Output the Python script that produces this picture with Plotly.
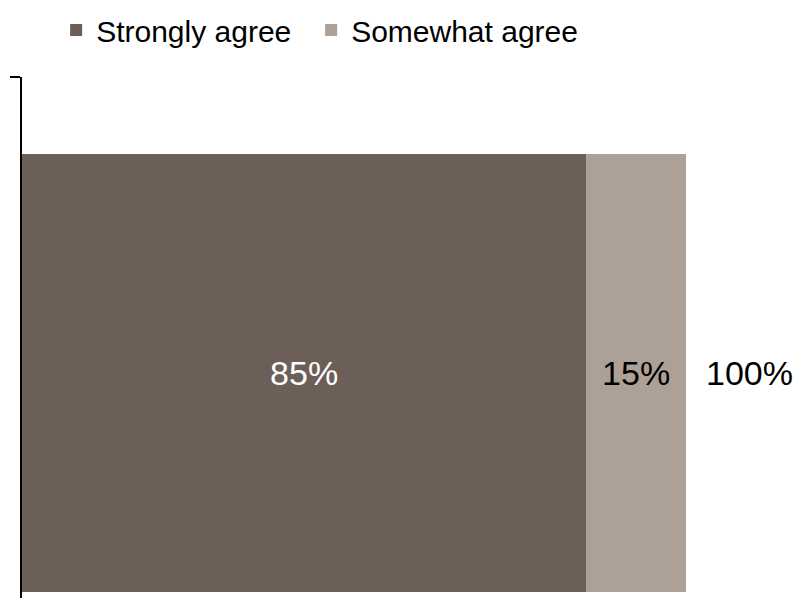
import plotly.graph_objects as go

categories = [0]
series_names = ["Strongly agree", "Somewhat agree"]
strongly_agree = [85]
somewhat_agree = [15]
total_label = "100%"

COLORS = {"Strongly agree": "#6B5F57", "Somewhat agree": "#ADA097"}
TEXT_COLORS = {"Strongly agree": "white", "Somewhat agree": "black"}
LEGEND_WIDTHS = {"Strongly agree": 210, "Somewhat agree": 240}
FONT = "Liberation Sans, Arial, sans-serif"

fig = go.Figure()
for name, values in zip(series_names, [strongly_agree, somewhat_agree]):
    fig.add_trace(
        go.Bar(
            x=values,
            y=categories,
            name=name,
            orientation="h",
            width=0.74,
            marker={"color": COLORS[name], "line": {"width": 0}},
            text=[f"{v}%" for v in values],
            textposition="inside",
            insidetextanchor="middle",
            textfont={"color": TEXT_COLORS[name], "size": 34, "family": FONT},
            legendwidth=LEGEND_WIDTHS[name],
        )
    )

total = strongly_agree[0] + somewhat_agree[0]
fig.add_annotation(
    x=total,
    y=categories[0],
    text=total_label,
    showarrow=False,
    xanchor="left",
    xshift=18,
    font={"color": "black", "size": 34, "family": FONT},
)

fig.update_layout(
    barmode="stack",
    width=808,
    height=598,
    paper_bgcolor="white",
    plot_bgcolor="white",
    margin={"l": 14, "r": 0, "t": 69, "b": 0, "autoexpand": False},
    font={"family": FONT, "color": "black"},
    legend={
        "orientation": "h",
        "traceorder": "normal",
        "x": 0.043,
        "xanchor": "left",
        "y": 1.089,
        "yanchor": "middle",
        "font": {"size": 30},
        "itemclick": False,
    },
    xaxis={
        "range": [0, 119.6],
        "visible": False,
        "showgrid": False,
        "zeroline": False,
    },
    yaxis={
        "range": [-0.394, 0.5],
        "automargin": False,
        "showline": True,
        "linecolor": "black",
        "linewidth": 1.5,
        "showgrid": False,
        "zeroline": False,
        "ticks": "outside",
        "tickvals": [0.5],
        "ticktext": [""],
        "ticklen": 10,
        "tickcolor": "black",
        "tickwidth": 1.5,
    },
)

fig.write_html("out.html")
